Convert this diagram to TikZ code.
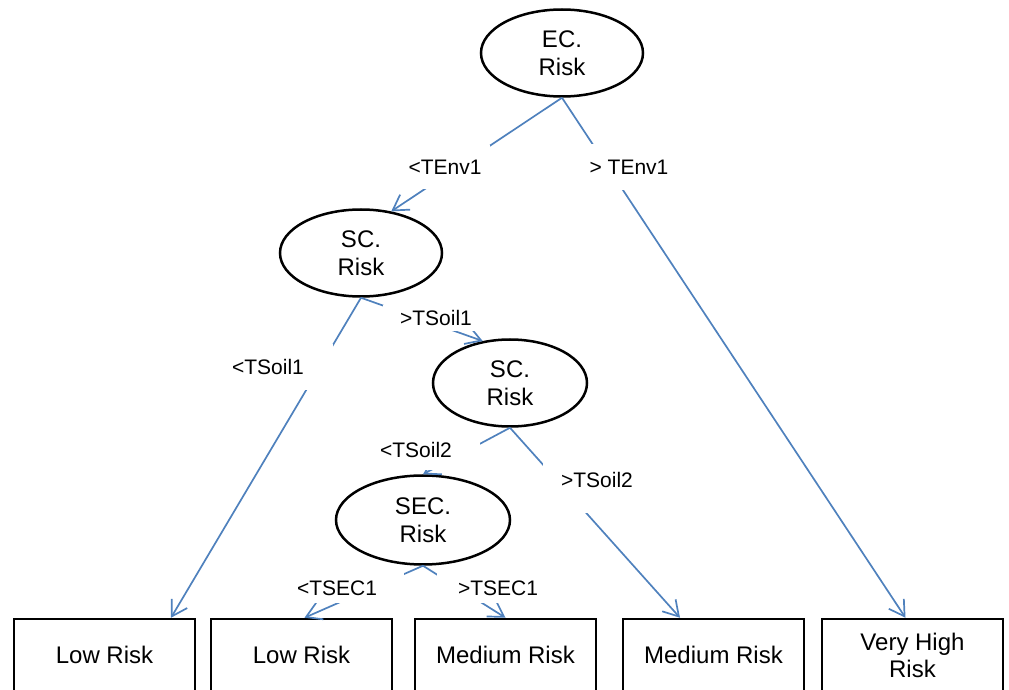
\documentclass[tikz,border=0pt]{standalone}
\usepackage{fontspec}
\setmainfont{Liberation Sans}
\usetikzlibrary{shapes, arrows.meta, positioning, calc}

\definecolor{edgeblue}{RGB}{79,129,189}

\begin{document}
\begin{tikzpicture}[x=0.5pt, y=-0.5pt, >={Straight Barb[length=7.5pt, width=9pt]},
        risk/.style={ellipse, draw, line width=1.25pt, inner sep=0pt, align=center, minimum width=81pt, minimum height=43.5pt, font=\fontsize{12}{14}\selectfont},
        leaf/.style={rectangle, draw, line width=1.25pt, align=center, minimum width=90.5pt, minimum height=36pt, font=\fontsize{12}{13.5}\selectfont},
        cut/.style={rectangle, fill=white, inner sep=0pt, font=\fontsize{10.5}{12}\selectfont},
        branch/.style={->, draw=edgeblue, line width=0.85pt}]

    \useasboundingbox (0,0) rectangle (1009,690);
    \clip (0,0) rectangle (1009,690);

    % Decision nodes
    \node (ec) [risk] at (562,53) {EC.\\Risk};
    \node (sc1) [risk] at (361,253) {SC.\\Risk};
    \node (sc2) [risk, minimum width=77pt] at (510,383) {SC.\\Risk};
    \node (sec) [risk, minimum width=87pt, minimum height=44.5pt] at (423,520) {SEC.\\Risk};

    % Outcomes
    \node (low1) [leaf] at (104.5,655) {Low Risk};
    \node (low2) [leaf] at (301.5,655) {Low Risk};
    \node (med1) [leaf] at (505.5,655) {Medium Risk};
    \node (med2) [leaf] at (713.5,655) {Medium Risk};
    \node (vhr) [leaf] at (912.5,655) {Very High\\Risk};

    % Branches
    \draw [branch] (ec.south) -- (sc1.54);
    \draw [branch] (ec.south) -- ([xshift=-3.5pt]vhr.north);
    \draw [branch] (sc1.south) -- ([xshift=33.25pt]low1.north);
    \draw [branch] (sc1.south) -- (sc2.123);
    \draw [branch] (sc2.south) -- (sec.north);
    \draw [branch] (sc2.south) -- ([xshift=-16.75pt]med2.north);
    \draw [branch] (sec.south) -- ([xshift=1.5pt]low2.north);
    \draw [branch] (sec.south) -- (med1.north);

    % Thresholds (white boxes cut the branches)
    \node (tenv1lo) [cut, minimum width=45pt, minimum height=22pt] at (445,167) {<TEnv1};
    \node (tenv1hi) [cut, minimum width=46pt, minimum height=23pt] at (629,167) {> TEnv1};
    \node (tsoil1lo) [cut, minimum width=65pt, minimum height=23pt] at (268,367) {<TSoil1};
    \node (tsoil1hi) [cut, minimum width=53pt, minimum height=13pt] at (436,318) {>TSoil1};
    \node (tsoil2lo) [cut, minimum width=64pt, minimum height=20pt] at (416,450) {<TSoil2};
    \node (tsoil2hi) [cut, minimum width=54pt, minimum height=33pt] at (597,480) {>TSoil2};
    \node (tsec1lo) [cut, minimum width=67pt, minimum height=15pt] at (337,588) {<TSEC1};
    \node (tsec1hi) [cut, minimum width=61pt, minimum height=15pt] at (498,588) {>TSEC1};

\end{tikzpicture}
\end{document}
